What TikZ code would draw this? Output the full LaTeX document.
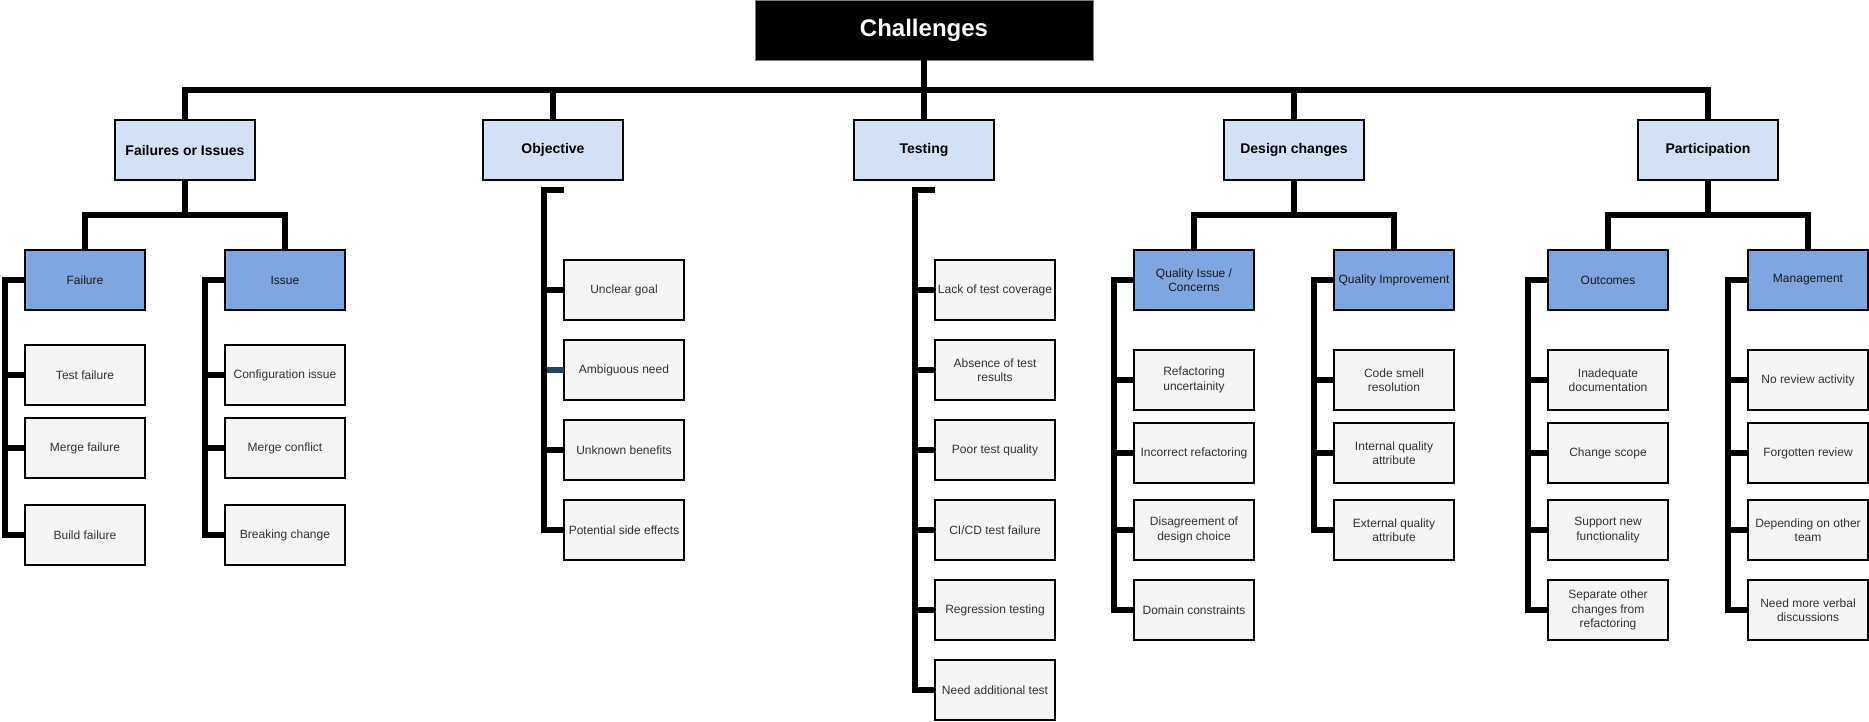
\documentclass[tikz,border=0pt]{standalone}
\usepackage{fontspec}
\setmainfont{Liberation Sans}
\usepackage{xcolor}
\usetikzlibrary{positioning}

\definecolor{topicfill}{HTML}{D4E1F5}
\definecolor{groupfill}{HTML}{7EA6E0}
\definecolor{leaffill}{HTML}{F5F5F5}
\definecolor{leaftext}{HTML}{333333}
\definecolor{slate}{HTML}{23445D}

\begin{document}
\begin{tikzpicture}[x=1pt, y=-1pt,
            node distance=20pt,
            root/.style={draw=gray, fill=black, text=white, minimum width=338pt, minimum height=60pt, outer sep=0pt, font=\fontsize{24}{28}\selectfont\bfseries},
            topic/.style={draw=black, line width=1.2pt, fill=topicfill, minimum width=140pt, minimum height=60pt, outer sep=0pt, font=\fontsize{14}{17}\selectfont\bfseries},
            group/.style={draw=black, line width=1.2pt, fill=groupfill, text=black!90, minimum width=120pt, minimum height=60pt, outer sep=0pt, align=center, inner sep=1pt, font=\fontsize{12}{14.4}\selectfont},
            leaf/.style={draw=black, line width=1.2pt, fill=leaffill, text=leaftext, minimum width=120pt, minimum height=60pt, outer sep=0pt, align=center, inner sep=1pt, font=\fontsize{12}{14.4}\selectfont},
            conn/.style={line width=6pt, line join=miter}]

            \useasboundingbox (0,0) rectangle (1869,721);

            % Root and topics
            \node (ch) [root] at (924,30) {Challenges};
            \node (fi) [topic] at (185,150) {Failures or Issues};
            \node (obj) [topic] at (553,150) {Objective};
            \node (tst) [topic] at (924,150) {Testing};
            \node (dsg) [topic] at (1294,150) {Design changes};
            \node (par) [topic] at (1708,150) {Participation};

            % Groups
            \node (fail) [group] at (85,280) {Failure};
            \node (iss) [group] at (285,280) {Issue};
            \node (qic) [group] at (1194,280) {Quality Issue /\\Concerns};
            \node (qim) [group] at (1394,280) {Quality Improvement};
            \node (out) [group] at (1608,280) {Outcomes};
            \node (mgt) [group] at (1808,280) {Management};

            % Failures or Issues
            \node (tf) [leaf] at (85,375) {Test failure};
            \node (mf) [leaf] at (85,448) {Merge failure};
            \node (bf) [leaf] at (85,535) {Build failure};
            \node (ci) [leaf] at (285,375) {Configuration issue};
            \node (mc) [leaf] at (285,448) {Merge conflict};
            \node (bc) [leaf] at (285,535) {Breaking change};

            % Objective
            \node (ug) [leaf] at (624,290) {Unclear goal};
            \node (an) [leaf, below=of ug] {Ambiguous need};
            \node (ub) [leaf, below=of an] {Unknown benefits};
            \node (ps) [leaf, below=of ub] {Potential side effects};

            % Testing
            \node (ltc) [leaf] at (995,290) {Lack of test coverage};
            \node (atr) [leaf, below=of ltc] {Absence of test\\results};
            \node (ptq) [leaf, below=of atr] {Poor test quality};
            \node (cicd) [leaf, below=of ptq] {CI/CD test failure};
            \node (rt) [leaf, below=of cicd] {Regression testing};
            \node (nat) [leaf, below=of rt] {Need additional test};

            % Design changes
            \node (ru) [leaf] at (1194,380) {Refactoring\\uncertainity};
            \node (ir) [leaf] at (1194,453) {Incorrect refactoring};
            \node (dd) [leaf] at (1194,530) {Disagreement of\\design choice};
            \node (dc) [leaf] at (1194,610) {Domain constraints};
            \node (cs) [leaf] at (1394,380) {Code smell\\resolution};
            \node (iq) [leaf] at (1394,453) {Internal quality\\attribute};
            \node (eq) [leaf] at (1394,530) {External quality\\attribute};

            % Participation
            \node (id) [leaf] at (1608,380) {Inadequate\\documentation};
            \node (csc) [leaf] at (1608,453) {Change scope};
            \node (snf) [leaf] at (1608,530) {Support new\\functionality};
            \node (soc) [leaf] at (1608,610) {Separate other\\changes from\\refactoring};
            \node (nra) [leaf] at (1808,380) {No review activity};
            \node (fr) [leaf] at (1808,453) {Forgotten review};
            \node (dot) [leaf] at (1808,530) {Depending on other\\team};
            \node (nmv) [leaf] at (1808,610) {Need more verbal\\discussions};

            % Connections
            \coordinate (bus) at (0,90);
            \coordinate (mid) at (0,215);
            \coordinate (objtop) at (564,190);
            \coordinate (tsttop) at (935,190);

            \foreach \t in {fi,obj,tst,dsg,par}
                \draw [conn] (ch.south) -- (ch.south |- bus) -| (\t.north);
            \foreach \p/\c in {fi/fail,fi/iss,dsg/qic,dsg/qim,par/out,par/mgt}
                \draw [conn] (\p.south) -- (\p.south |- mid) -| (\c.north);
            \foreach \g/\l in {fail/tf,fail/mf,fail/bf,iss/ci,iss/mc,iss/bc,qic/ru,qic/ir,qic/dd,qic/dc,qim/cs,qim/iq,qim/eq,out/id,out/csc,out/snf,out/soc,mgt/nra,mgt/fr,mgt/dot,mgt/nmv}
                \draw [conn] (\g.west) -- ++(-20,0) |- (\l.west);

            \draw [conn, slate] (objtop) -- ++(-20,0) |- (an.west);
            \foreach \l in {ug,ub,ps}
                \draw [conn] (objtop) -- ++(-20,0) |- (\l.west);
            \foreach \l in {ltc,atr,ptq,cicd,rt,nat}
                \draw [conn] (tsttop) -- ++(-20,0) |- (\l.west);
        \end{tikzpicture}
\end{document}
